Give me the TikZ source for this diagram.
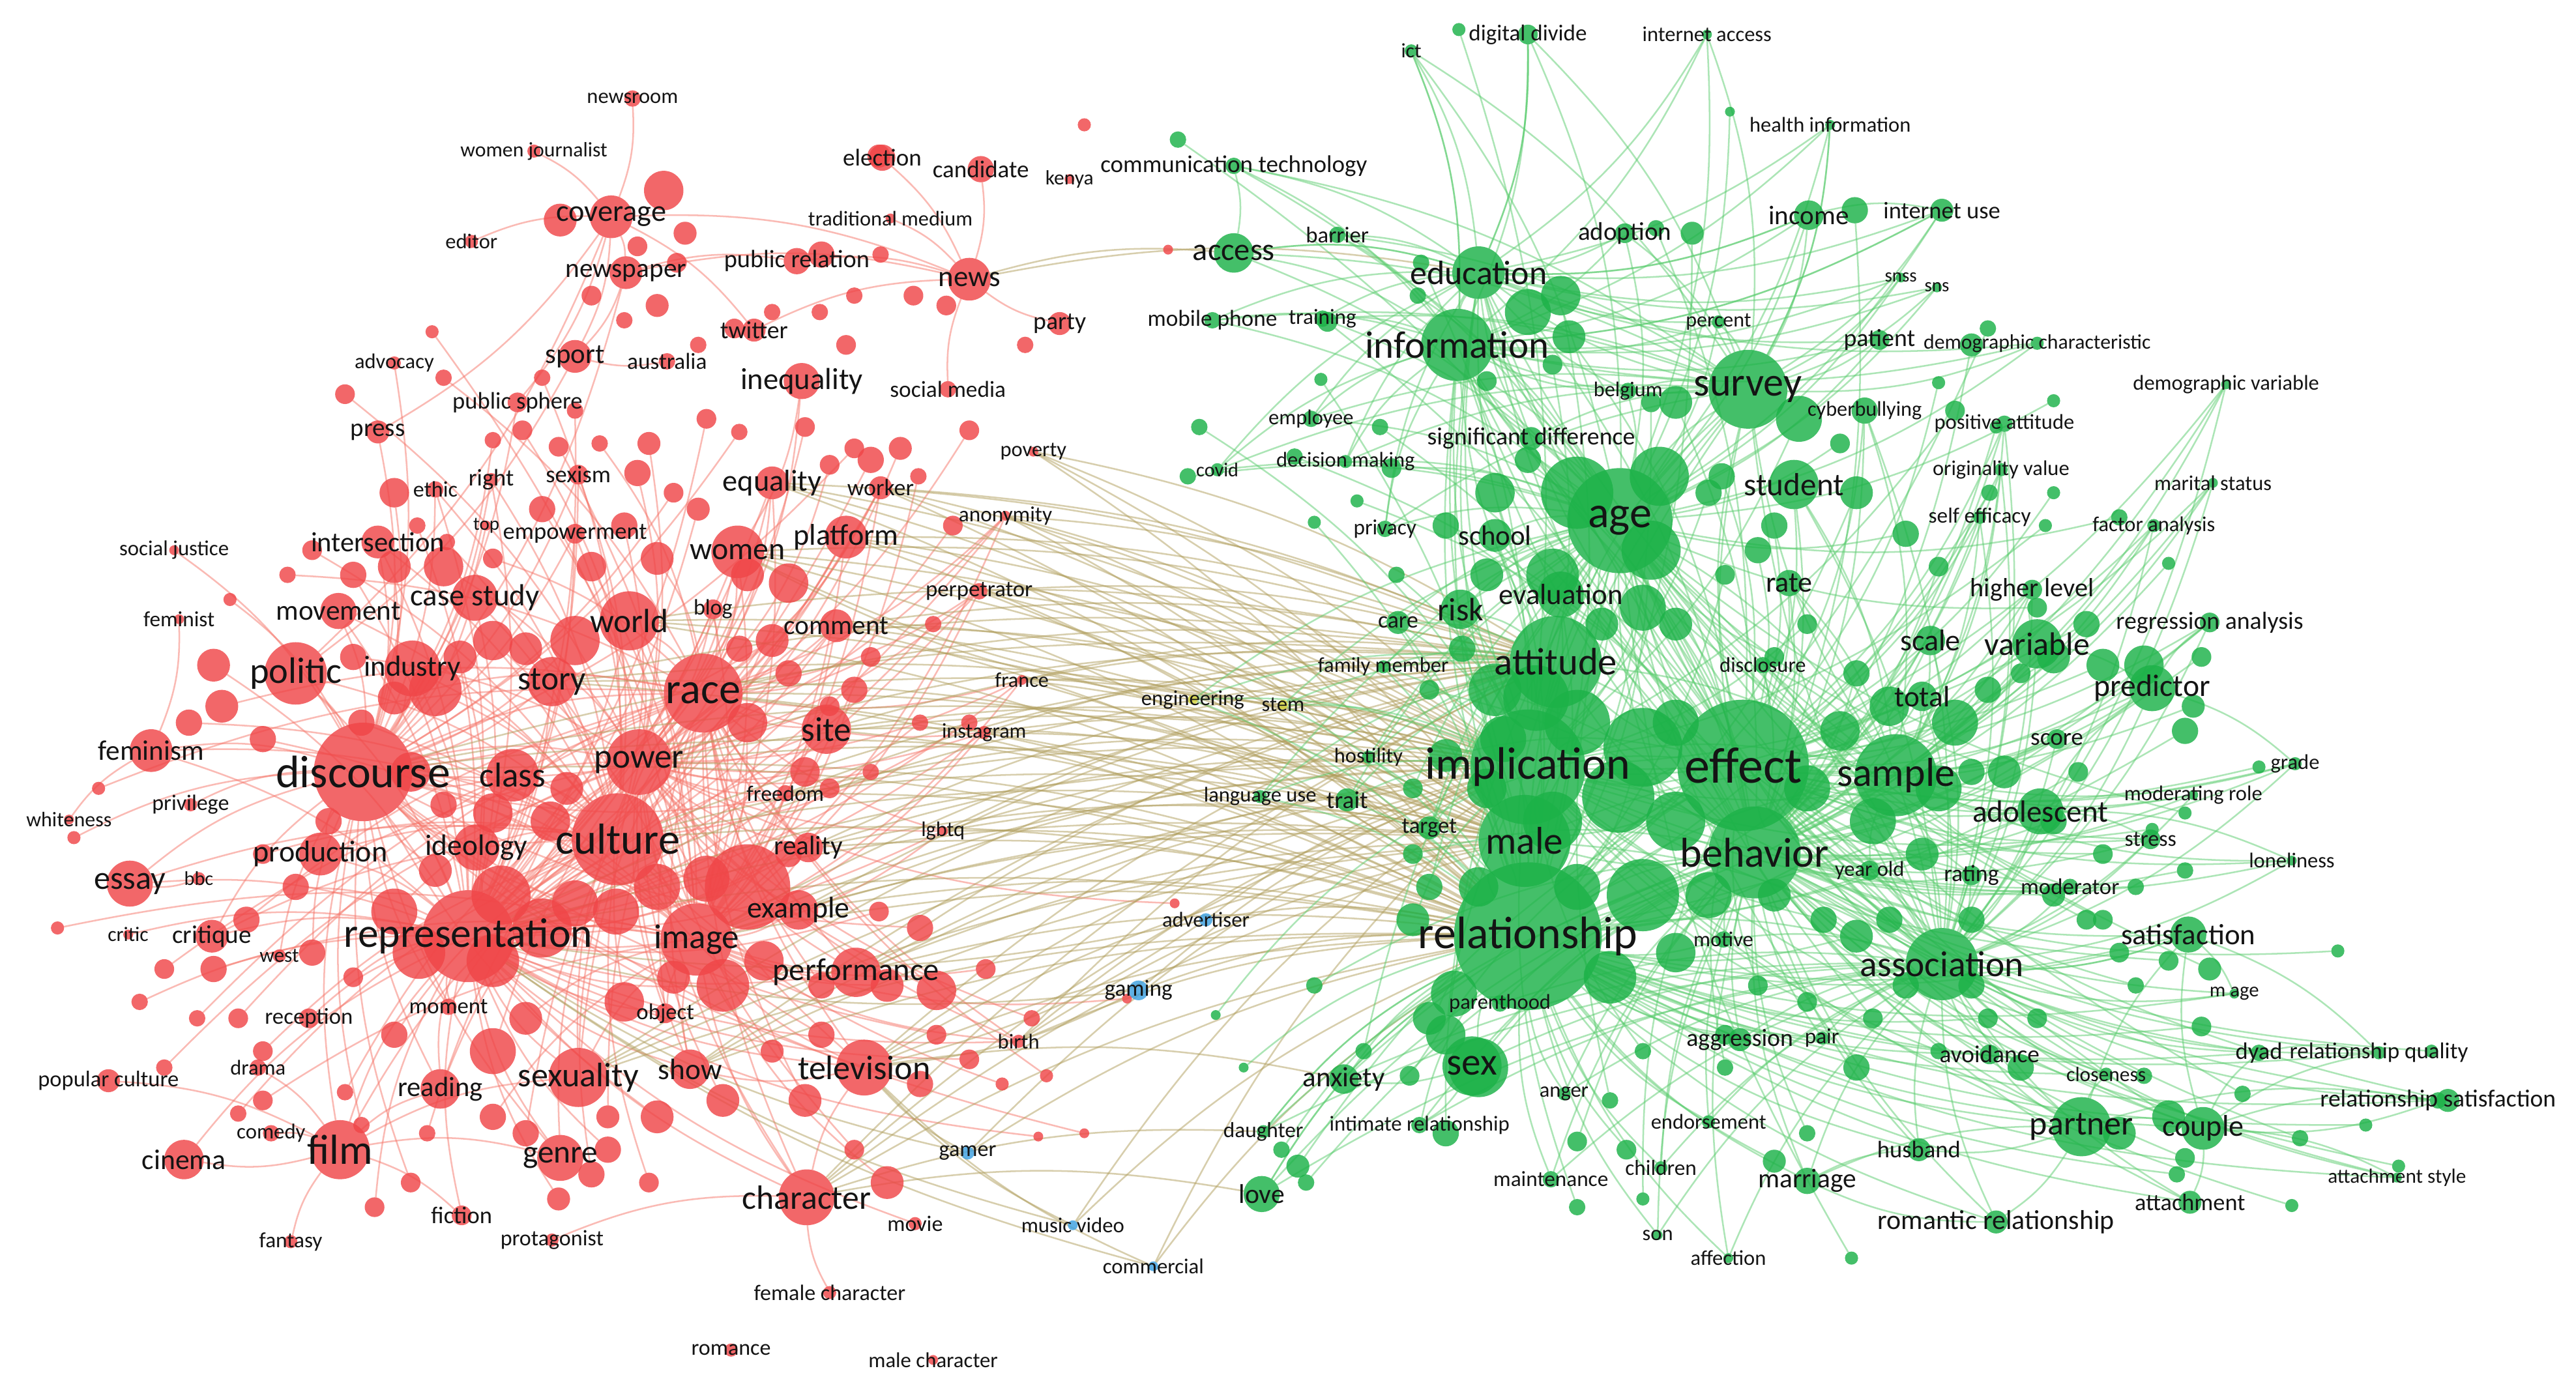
\documentclass[tikz,border=0pt]{standalone}
\usepackage{fontspec}
\setmainfont{Carlito}
\definecolor{nred}{RGB}{240,70,72}
\definecolor{ngreen}{RGB}{28,178,72}
\definecolor{nblue}{RGB}{60,160,225}
\definecolor{nyellow}{RGB}{212,212,60}
\definecolor{ered}{RGB}{246,118,106}
\definecolor{egreen}{RGB}{90,205,110}
\definecolor{ecross}{RGB}{176,158,92}
\pgfdeclarelayer{bg}
\pgfdeclarelayer{edges}
\pgfdeclarelayer{lab}
\pgfsetlayers{bg,edges,main,lab}
\tikzset{
  dot/.style={circle,inner sep=0pt,outer sep=0pt,draw=none,fill opacity=0.82},
  lbl/.style={inner sep=0pt,text=black!92},
  redge/.style={draw=ered,line width=1.0pt,draw opacity=0.5},
  gedge/.style={draw=egreen,line width=1.0pt,draw opacity=0.5},
  xedge/.style={draw=ecross,line width=1.0pt,draw opacity=0.5},
}
\newcommand\kw[7]{%
  \node[dot,fill=#5,minimum size=#4*2pt] (#1) at (#2,#3) {};
  \begin{pgfonlayer}{lab}\node[lbl,font=\fontsize{#6}{#6}\selectfont] (#1-t) at (#2,#3) {#7};\end{pgfonlayer}}
\begin{document}
\begin{tikzpicture}[x=1pt,y=-1pt]
\begin{pgfonlayer}{bg}\fill[white] (0,0) rectangle (1568,845);\end{pgfonlayer}
\useasboundingbox (0,0) rectangle (1568,845);
% ---------- unlabeled red circles
\foreach \x/\y/\r [count=\i] in {404/116/12,417/142/7,341/134/10,388/150/6,412/160/6,400/186/7,500/155/8,535/95/7,660/76/4,536/155/5,556/180/6,576/186/6,470/190/5,499/190/5,515/210/6,520/180/5,447/200/6,425/210/5,380/195/5,360/180/6,624/210/5,711/152/3,490/260/6,520/273/6,530/280/8,548/273/7,505/283/6,559/290/5,590/262/6,450/263/5,430/255/6,395/270/7,365/270/5,340/272/6,318/262/6,300/268/5,350/250/5,330/230/5,270/230/5,263/202/4,210/240/6,240/300/9,254/320/5,272/330/5,300/340/6,330/310/8,388/288/8,410/300/6,425/310/7,380/320/8,400/340/10,360/345/9,270/345/12,240/345/10,215/350/8,190/335/6,175/350/5,300/390/12,320/395/10,350/390/15,280/400/10,265/420/16,240/425/10,220/440/8,215/400/8,140/365/4,130/405/10,115/440/8,135/430/10,160/450/8,455/350/10,470/390/10,450/395/8,480/355/12,480/410/8,455/440/12,490/470/9,505/480/6,480/520/8,455/540/26,430/535/14,400/540/14,375/555/14,350/550/14,330/565/18,305/545/18,300/585/16,255/580/16,240/555/14,265/530/10,335/500/12,345/480/10,300/495/12,250/470/12,270/490/8,200/500/8,180/540/8,160/520/6,150/560/8,130/590/8,100/590/6,190/580/8,215/595/6,240/630/8,300/640/14,320/620/10,380/610/12,410/595/10,440/600/16,465/585/12,500/600/8,540/600/10,570/603/12,560/565/8,535/555/6,500/630/8,490/670/10,470/640/7,440/670/10,400/680/10,370/700/8,395/720/6,320/690/8,300/680/8,260/690/5,250/720/6,340/730/7,360/715/8,370/680/7,540/720/10,520/700/6,560/660/8,590/645/6,610/660/4,637/655/4,600/590/6,628/620/5,570/630/6,580/320/6,568/380/5,530/400/6,520/420/8,530/470/5,505/430/6,560/440/5,590/440/5,60/480/4,35/565/4,100/650/5,45/510/4,85/610/5,160/640/6,145/620/6,160/670/6,210/665/5,220/685/5,228/735/6,145/678/5,120/620/5,686/608/3,715/550/3,660/690/3,632/692/3}
  {\node[dot,fill=nred,minimum size=\r*2pt] (ur\i) at (\x,\y) {}; \xdef\nred{\i}}
% ---------- unlabeled green circles
\foreach \x/\y/\r [count=\i] in {717/85/5,888/18/4,1053/68/3,1129/128/8,1030/142/7,1008/139/5,865/160/5,863/180/5,808/196/6,804/231/4,788/278/5,730/260/5,723/290/5,930/190/14,950/180/12,955/205/10,945/222/6,905/232/6,1020/245/10,1005/245/6,1048/290/8,1095/255/14,1120/270/6,1200/210/7,1210/200/5,1180/233/4,1190/250/6,1250/244/4,1215/260/4,1211/300/5,1250/300/4,1245/320/4,1290/315/5,1320/343/4,1340/400/6,1335/430/7,1280/405/10,1160/325/8,1180/345/6,1130/300/10,1080/320/8,1040/300/8,1010/290/18,960/300/22,1005/335/18,945/350/16,1000/370/14,975/380/10,1020/380/10,1050/350/6,1070/335/8,1100/380/6,1080/400/6,1130/410/8,1150/430/12,1190/440/14,1120/445/12,1100/480/14,1020/440/14,1000/455/24,985/485/22,960/440/20,935/425/20,910/420/16,915/450/14,905/480/12,945/500/18,1020/500/18,1040/545/14,1000/545/22,1080/545/10,1110/560/8,1150/560/8,1170/520/10,1140/500/14,1180/480/14,1200/470/8,1220/470/10,1250/500/8,1265/470/6,1280/520/6,1300/540/5,1280/560/6,1330/530/5,1290/580/6,1300/600/5,1320/585/6,1345/590/7,1423/579/4,1340/625/6,1305/655/5,1290/690/10,1320/680/10,1330/705/6,1325/715/5,1400/693/5,1395/734/4,1365/666/5,1480/640/4,1440/685/4,1490/670/7,1460/710/4,1230/650/8,1240/620/6,1210/620/6,1200/600/8,1180/640/5,1130/650/8,1100/690/5,1080/707/7,1050/650/5,1000/640/5,980/670/5,960/695/6,990/700/6,1000/730/4,960/735/5,1127/766/4,1020/580/12,980/595/16,960/540/14,885/605/14,880/630/12,900/650/18,870/620/10,858/655/6,880/690/8,830/640/5,800/600/5,780/700/5,790/710/7,860/560/10,870/540/8,860/520/6,900/540/12,880/460/10,890/395/8,905/350/10,880/320/8,910/300/12,930/280/8,850/350/5,847/285/6,840/260/5,800/318/4,826/305/4,740/618/3,860/480/6,870/420/6,1050/630/6,1070/600/6,1100/610/6,1140/620/6,1160/600/8,1130/570/10,1200/560/8,1250/545/7,1270/560/6,1210/420/8,1230/410/6,1250/400/10,1270/380/8,1240/370/6,1305/405/12,1330/445/8,1375/467/4,1310/505/4,1330/495/4,795/720/5,757/650/3}
  {\node[dot,fill=ngreen,minimum size=\r*2pt] (ug\i) at (\x,\y) {}; \xdef\ngreen{\i}}
% ---------- red keywords
\kw{newsroom}{385}{60}{5}{nred}{12.9}{newsroom}
\kw{womenjournalist}{325}{92}{4}{nred}{12.6}{women journalist}
\kw{coverage}{372}{132}{13}{nred}{18.4}{coverage}
\kw{editor}{287}{147}{4}{nred}{12.9}{editor}
\kw{newspaper}{381}{166}{10}{nred}{16.4}{newspaper}
\kw{election}{537}{96}{8}{nred}{14.7}{election}
\kw{candidate}{597}{103}{8}{nred}{14.7}{candidate}
\kw{kenya}{651}{109}{3}{nred}{12.5}{kenya}
\kw{tradmedium}{542}{133}{3}{nred}{12.8}{traditional medium}
\kw{publicrelation}{485}{159}{8}{nred}{15.2}{public relation}
\kw{news}{590}{170}{13}{nred}{17.8}{news}
\kw{twitter}{459}{201}{7}{nred}{15}{twitter}
\kw{party}{645}{197}{7}{nred}{15}{party}
\kw{advocacy}{240}{221}{4}{nred}{12.9}{advocacy}
\kw{sport}{350}{217}{10}{nred}{17}{sport}
\kw{australia}{406}{220}{5}{nred}{14}{australia}
\kw{publicsphere}{315}{245}{6}{nred}{14.5}{public sphere}
\kw{inequality}{488}{232}{11}{nred}{18.5}{inequality}
\kw{socialmedia}{577}{237}{5}{nred}{14}{social media}
\kw{poverty}{629}{275}{3}{nred}{12.9}{poverty}
\kw{press}{230}{263}{7}{nred}{15.5}{press}
\kw{ethic}{265}{298}{5}{nred}{13.5}{ethic}
\kw{right}{299}{292}{4}{nred}{14.5}{right}
\kw{sexism}{352}{289}{6}{nred}{14.5}{sexism}
\kw{top}{296}{320}{3}{nred}{11.5}{top}
\kw{empowerment}{350}{325}{6}{nred}{14.5}{empowerment}
\kw{equality}{470}{294}{10}{nred}{18.4}{equality}
\kw{worker}{536}{297}{7}{nred}{14.2}{worker}
\kw{socialjustice}{106}{335}{3}{nred}{13}{social justice}
\kw{intersection}{230}{330}{10}{nred}{16.9}{intersection}
\kw{women}{449}{336}{16}{nred}{19}{women}
\kw{platform}{515}{327}{13}{nred}{18.3}{platform}
\kw{anonymity}{612}{314}{3}{nred}{13.2}{anonymity}
\kw{casestudy}{289}{364}{14}{nred}{18.6}{case study}
\kw{feminist}{109}{377}{3}{nred}{13.2}{feminist}
\kw{movement}{206}{372}{11}{nred}{17.2}{movement}
\kw{world}{383}{378}{18}{nred}{20.4}{world}
\kw{blog}{434}{371}{6}{nred}{13.5}{blog}
\kw{perpetrator}{596}{360}{5}{nred}{13.8}{perpetrator}
\kw{comment}{509}{381}{10}{nred}{16.4}{comment}
\kw{politic}{180}{410}{19}{nred}{22.4}{politic}
\kw{industry}{251}{407}{17}{nred}{17.7}{industry}
\kw{story}{336}{415}{15}{nred}{20.4}{story}
\kw{race}{428}{422}{24}{nred}{26.3}{race}
\kw{france}{622}{414}{3}{nred}{12.8}{france}
\kw{site}{503}{444}{15}{nred}{21}{site}
\kw{instagram}{599}{446}{4}{nred}{12.8}{instagram}
\kw{feminism}{92}{457}{13}{nred}{17.2}{feminism}
\kw{discourse}{221}{470}{30}{nred}{27.7}{discourse}
\kw{class}{312}{472}{16}{nred}{21}{class}
\kw{power}{389}{464}{20}{nred}{21}{power}
\kw{freedom}{478}{483}{5}{nred}{13.5}{freedom}
\kw{whiteness}{42}{499}{3}{nred}{12.7}{whiteness}
\kw{privilege}{116}{490}{4}{nred}{13.5}{privilege}
\kw{production}{195}{520}{13}{nred}{18.3}{production}
\kw{ideology}{290}{516}{14}{nred}{18}{ideology}
\kw{culture}{376}{511}{28}{nred}{26.4}{culture}
\kw{reality}{492}{516}{9}{nred}{16.3}{reality}
\kw{lgbtq}{574}{506}{3}{nred}{12.8}{lgbtq}
\kw{essay}{79}{538}{14}{nred}{19.9}{essay}
\kw{bbc}{121}{535}{4}{nred}{12}{bbc}
\kw{example}{486}{554}{12}{nred}{18.2}{example}
\kw{critic}{78}{569}{3}{nred}{12.5}{critic}
\kw{critique}{129}{570}{10}{nred}{15.5}{critique}
\kw{west}{170}{582}{4}{nred}{12.5}{west}
\kw{representation}{285}{570}{28}{nred}{25.2}{representation}
\kw{image}{424}{572}{22}{nred}{21}{image}
\kw{performance}{521}{592}{15}{nred}{19.3}{performance}
\kw{moment}{273}{613}{5}{nred}{13.8}{moment}
\kw{reception}{188}{620}{6}{nred}{13.8}{reception}
\kw{object}{405}{617}{6}{nred}{13.8}{object}
\kw{birth}{620}{634}{4}{nred}{12.9}{birth}
\kw{drama}{157}{650}{5}{nred}{12.9}{drama}
\kw{popularculture}{66}{658}{7}{nred}{13.7}{popular culture}
\kw{reading}{268}{663}{12}{nred}{16.9}{reading}
\kw{sexuality}{352}{656}{18}{nred}{20.7}{sexuality}
\kw{show}{420}{651}{12}{nred}{18}{show}
\kw{television}{526}{650}{17}{nred}{20.7}{television}
\kw{comedy}{165}{690}{5}{nred}{13}{comedy}
\kw{film}{207}{700}{18}{nred}{25.6}{film}
\kw{cinema}{112}{706}{12}{nred}{17.3}{cinema}
\kw{genre}{341}{705}{14}{nred}{19.6}{genre}
\kw{fiction}{281}{740}{6}{nred}{14.5}{fiction}
\kw{character}{491}{729}{17}{nred}{20.5}{character}
\kw{fantasy}{177}{756}{4}{nred}{13.2}{fantasy}
\kw{protagonist}{336}{755}{4}{nred}{13.5}{protagonist}
\kw{movie}{557}{745}{4}{nred}{13.5}{movie}
\kw{femalechar}{505}{787}{4}{nred}{13.5}{female character}
\kw{romance}{445}{822}{4}{nred}{13.5}{romance}
\kw{malechar}{568}{828}{3}{nred}{13}{male character}
% ---------- blue / yellow
\kw{advertiser}{734}{560}{4}{nblue}{13}{advertiser}
\kw{gaming}{693}{603}{6}{nblue}{14}{gaming}
\kw{gamer}{589}{702}{4}{nblue}{13.5}{gamer}
\kw{musicvideo}{653}{746}{3}{nblue}{13}{music video}
\kw{commercial}{702}{771}{3}{nblue}{13}{commercial}
\kw{engineering}{726}{426}{3}{nyellow}{13}{engineering}
\kw{stem}{781}{429}{3}{nyellow}{13}{stem}
% ---------- green keywords
\kw{ict}{859}{31}{4}{ngreen}{12.5}{ict}
\kw{digitaldivide}{930}{21}{6}{ngreen}{13.9}{digital divide}
\kw{internetaccess}{1039}{21}{3}{ngreen}{12.9}{internet access}
\kw{healthinfo}{1114}{76}{3}{ngreen}{12.9}{health information}
\kw{commtech}{751}{101}{5}{ngreen}{14.7}{communication technology}
\kw{access}{751}{154}{12}{ngreen}{19.2}{access}
\kw{barrier}{814}{143}{5}{ngreen}{13.8}{barrier}
\kw{education}{900}{166}{16}{ngreen}{20.6}{education}
\kw{adoption}{989}{142}{6}{ngreen}{15.5}{adoption}
\kw{income}{1101}{131}{9}{ngreen}{16.3}{income}
\kw{internetuse}{1182}{128}{7}{ngreen}{14.5}{internet use}
\kw{snss}{1157}{169}{3}{ngreen}{11.5}{snss}
\kw{sns}{1179}{175}{3}{ngreen}{11.5}{sns}
\kw{mobilephone}{738}{195}{5}{ngreen}{14}{mobile phone}
\kw{training}{805}{194}{5}{ngreen}{13.2}{training}
\kw{information}{887}{210}{22}{ngreen}{23.4}{information}
\kw{percent}{1046}{196}{4}{ngreen}{12.7}{percent}
\kw{patient}{1144}{207}{6}{ngreen}{15}{patient}
\kw{demochar}{1240}{209}{4}{ngreen}{12.6}{demographic characteristic}
\kw{survey}{1064}{237}{24}{ngreen}{24.7}{survey}
\kw{belgium}{991}{238}{5}{ngreen}{12.8}{belgium}
\kw{cyberbullying}{1135}{250}{8}{ngreen}{12.8}{cyberbullying}
\kw{demovar}{1355}{234}{3}{ngreen}{12.9}{demographic variable}
\kw{employee}{798}{255}{5}{ngreen}{12.9}{employee}
\kw{sigdiff}{932}{267}{7}{ngreen}{15}{significant difference}
\kw{posatt}{1220}{258}{5}{ngreen}{12.9}{positive attitude}
\kw{decisionmaking}{819}{281}{4}{ngreen}{12.9}{decision making}
\kw{covid}{741}{286}{4}{ngreen}{12}{covid}
\kw{origval}{1218}{286}{4}{ngreen}{12.9}{originality value}
\kw{student}{1092}{295}{15}{ngreen}{19.5}{student}
\kw{maritalstatus}{1347}{294}{3}{ngreen}{12.9}{marital status}
\kw{age}{986}{317}{32}{ngreen}{27}{age}
\kw{privacy}{843}{322}{5}{ngreen}{13.2}{privacy}
\kw{school}{910}{326}{10}{ngreen}{17}{school}
\kw{selfeff}{1205}{315}{4}{ngreen}{13.2}{self efficacy}
\kw{factoranalysis}{1311}{320}{4}{ngreen}{12.9}{factor analysis}
\kw{rate}{1089}{355}{8}{ngreen}{17.5}{rate}
\kw{evaluation}{950}{362}{14}{ngreen}{17.8}{evaluation}
\kw{higherlevel}{1237}{359}{6}{ngreen}{16}{higher level}
\kw{risk}{889}{371}{12}{ngreen}{19.7}{risk}
\kw{care}{851}{379}{7}{ngreen}{14.2}{care}
\kw{regression}{1345}{379}{6}{ngreen}{15}{regression analysis}
\kw{scale}{1175}{390}{9}{ngreen}{18.3}{scale}
\kw{variable}{1240}{392}{15}{ngreen}{19.8}{variable}
\kw{familymember}{842}{406}{4}{ngreen}{12.9}{family member}
\kw{attitude}{947}{403}{28}{ngreen}{23.3}{attitude}
\kw{disclosure}{1073}{405}{5}{ngreen}{12.9}{disclosure}
\kw{predictor}{1310}{419}{14}{ngreen}{18.9}{predictor}
\kw{total}{1170}{424}{9}{ngreen}{17.9}{total}
\kw{hostility}{833}{461}{4}{ngreen}{12.9}{hostility}
\kw{implication}{930}{467}{35}{ngreen}{27.7}{implication}
\kw{effect}{1061}{466}{40}{ngreen}{31}{effect}
\kw{sample}{1154}{472}{25}{ngreen}{24.6}{sample}
\kw{score}{1252}{450}{6}{ngreen}{14.8}{score}
\kw{grade}{1397}{465}{4}{ngreen}{12.9}{grade}
\kw{trait}{820}{487}{7}{ngreen}{14.8}{trait}
\kw{languageuse}{767}{485}{4}{ngreen}{12.9}{language use}
\kw{moderatingrole}{1335}{484}{3}{ngreen}{12.9}{moderating role}
\kw{adolescent}{1242}{494}{14}{ngreen}{18.7}{adolescent}
\kw{target}{870}{504}{7}{ngreen}{13.8}{target}
\kw{male}{928}{512}{28}{ngreen}{23.5}{male}
\kw{behavior}{1068}{519}{28}{ngreen}{25.4}{behavior}
\kw{stress}{1309}{511}{6}{ngreen}{13.5}{stress}
\kw{loneliness}{1395}{524}{3}{ngreen}{12.9}{loneliness}
\kw{yearold}{1138}{530}{6}{ngreen}{12.9}{year old}
\kw{rating}{1200}{533}{6}{ngreen}{14.2}{rating}
\kw{moderator}{1260}{540}{5}{ngreen}{13.8}{moderator}
\kw{relationship}{930}{570}{45}{ngreen}{27.7}{relationship}
\kw{motive}{1049}{572}{5}{ngreen}{12.9}{motive}
\kw{association}{1182}{587}{22}{ngreen}{22}{association}
\kw{satisfaction}{1332}{569}{11}{ngreen}{17.8}{satisfaction}
\kw{mage}{1360}{605}{3}{ngreen}{12.2}{m age}
\kw{parenthood}{913}{611}{5}{ngreen}{12.9}{parenthood}
\kw{aggression}{1059}{633}{7}{ngreen}{15}{aggression}
\kw{pair}{1109}{632}{4}{ngreen}{13.2}{pair}
\kw{avoidance}{1211}{642}{6}{ngreen}{14.8}{avoidance}
\kw{dyad}{1375}{641}{5}{ngreen}{14.5}{dyad}
\kw{relqual}{1448}{641}{4}{ngreen}{13.9}{relationship quality}
\kw{closeness}{1282}{654}{4}{ngreen}{12.5}{closeness}
\kw{anxiety}{818}{657}{9}{ngreen}{17}{anxiety}
\kw{sex}{896}{649}{18}{ngreen}{23.5}{sex}
\kw{anger}{952}{666}{4}{ngreen}{12.9}{anger}
\kw{relsat}{1484}{670}{5}{ngreen}{14.9}{relationship satisfaction}
\kw{endorsement}{1040}{683}{4}{ngreen}{12.9}{endorsement}
\kw{intimaterel}{864}{685}{5}{ngreen}{13}{intimate relationship}
\kw{partner}{1267}{686}{18}{ngreen}{20.6}{partner}
\kw{couple}{1341}{687}{13}{ngreen}{18.3}{couple}
\kw{daughter}{769}{689}{4}{ngreen}{13.2}{daughter}
\kw{husband}{1168}{700}{7}{ngreen}{14.5}{husband}
\kw{maintenance}{944}{718}{5}{ngreen}{13.2}{maintenance}
\kw{children}{1011}{711}{4}{ngreen}{13.2}{children}
\kw{marriage}{1100}{719}{8}{ngreen}{16.4}{marriage}
\kw{attachstyle}{1459}{717}{3}{ngreen}{12.4}{attachment style}
\kw{love}{768}{727}{11}{ngreen}{16.5}{love}
\kw{attachment}{1333}{732}{7}{ngreen}{14.4}{attachment}
\kw{romrel}{1215}{744}{7}{ngreen}{16.6}{romantic relationship}
\kw{son}{1009}{752}{3}{ngreen}{12.9}{son}
\kw{affection}{1052}{766}{3}{ngreen}{12.9}{affection}
% ================= edges
\begin{pgfonlayer}{edges}
\foreach \a [count=\i] in {discourse,representation,culture,race,image,power}{\foreach \b [count=\j] in {discourse,representation,culture,race,image,power}{\ifnum\i<\j \draw[redge] (\a) to[bend left=12] (\b);\fi}}
\foreach \a in {ethic,right,sexism,empowerment,intersection,casestudy,movement,politic,industry,feminism,production,essay,critique,moment,reading,genre,film,class,ideology,story}
  {\foreach \b in {discourse,representation,culture}{\draw[redge] (\a) to[bend left=12] (\b);}}
\foreach \a/\b in {top/discourse,socialjustice/discourse,feminist/feminism,whiteness/feminism,privilege/discourse,bbc/essay,critic/representation,west/discourse,popularculture/film,reception/representation,drama/film,comedy/film,cinema/representation,fantasy/film,fiction/representation,protagonist/character,femalechar/character,movie/representation}
  {\draw[redge] (\a) to[bend left=12] (\b);}
\foreach \a in {equality,worker,women,platform,anonymity,world,blog,perpetrator,comment,freedom,reality,lgbtq,site,example,instagram,france,object,performance,birth,show,sexuality,television,character}
  {\foreach \b in {race,representation,image,power}{\draw[redge] (\a) to[bend left=12] (\b);}}
\foreach \a/\b in {coverage/newspaper,coverage/news,newspaper/news,twitter/news,publicrelation/news,coverage/sport,coverage/publicsphere,newspaper/sport,coverage/press,coverage/twitter,newspaper/publicrelation,sport/politic,inequality/women,inequality/race,press/discourse,publicsphere/discourse,election/news,candidate/news,coverage/politic,newspaper/discourse,newsroom/coverage,womenjournalist/coverage,editor/coverage,socialmedia/news,australia/sport,advocacy/discourse,tradmedium/news,party/news,film/cinema,film/genre,film/fiction,character/television,film/reading,film/sexuality,television/show}
  {\draw[redge] (\a) to[bend left=12] (\b);}
\foreach \i in {23,...,\nred}{\pgfmathtruncatemacro\h{mod(\i,6)}%
  \ifcase\h \def\hub{discourse}\or\def\hub{representation}\or\def\hub{culture}\or\def\hub{race}\or\def\hub{image}\or\def\hub{power}\fi
  \draw[redge] (ur\i) to[bend left=12] (\hub);}
\foreach \a in {race,site,culture,example,performance,television,character,image,women,platform,comment,power,sexuality,representation,reality,perpetrator,anonymity,france,instagram,lgbtq,freedom,birth,story,world,discourse,show,equality,worker,poverty}
  {\foreach \b in {relationship,implication,male,attitude}{\draw[xedge] (\a) to[bend left=10] (\b);}}
\foreach \a in {advertiser,gaming,gamer,musicvideo,commercial}
  {\foreach \b in {representation,television,relationship,implication}{\draw[xedge] (\a) to[bend left=10] (\b);}}
\foreach \a/\b in {news/access,news/education,engineering/women,stem/women,engineering/relationship,stem/implication,character/love,character/daughter,television/anxiety}
  {\draw[xedge] (\a) to[bend left=10] (\b);}
\foreach \a [count=\i] in {relationship,effect,implication,age,behavior,attitude,male,sample,association,survey,information,education}{\foreach \b [count=\j] in {relationship,effect,implication,age,behavior,attitude,male,sample,association,survey,information,education}{\ifnum\i<\j \draw[gedge] (\a) to[bend left=12] (\b);\fi}}
\foreach \a in {ict,digitaldivide,internetaccess,healthinfo,commtech,access,barrier,adoption,income,internetuse,mobilephone,training,percent,belgium,employee,decisionmaking,covid,privacy,sigdiff,patient,snss,sns,demochar}
  {\foreach \b in {information,education,survey,age}{\draw[gedge] (\a) to[bend left=12] (\b);}}
\foreach \a in {demovar,posatt,origval,selfeff,maritalstatus,factoranalysis,higherlevel,regression,scale,variable,predictor,total,score,grade,moderatingrole,adolescent,stress,loneliness,yearold,rating,moderator,student,rate,disclosure,cyberbullying}
  {\foreach \b in {sample,effect,behavior,association}{\draw[gedge] (\a) to[bend left=12] (\b);}}
\foreach \a in {satisfaction,mage,aggression,pair,avoidance,dyad,relqual,closeness,relsat,endorsement,partner,couple,husband,marriage,attachstyle,attachment,romrel,son,affection,children,maintenance,anger,motive,parenthood,intimaterel,anxiety,daughter,love,sex}
  {\foreach \b in {relationship,association,behavior}{\draw[gedge] (\a) to[bend left=12] (\b);}}
\foreach \a in {care,familymember,hostility,trait,languageuse,target,risk,school,evaluation,engineering,stem}
  {\foreach \b in {implication,relationship,attitude,age}{\draw[gedge] (\a) to[bend left=12] (\b);}}
\foreach \a/\b in {partner/couple,partner/satisfaction,couple/satisfaction,couple/relsat,partner/relsat,couple/attachment,partner/romrel,partner/husband,marriage/partner,couple/dyad,partner/closeness,satisfaction/relqual,satisfaction/mage,couple/attachstyle,partner/avoidance,variable/predictor,predictor/regression,adolescent/stress,adolescent/predictor,income/internetuse,income/education,digitaldivide/education,ict/information,commtech/access,access/education,internetuse/information,healthinfo/survey,variable/higherlevel,predictor/grade,adolescent/loneliness,dyad/relqual,relsat/couple,marriage/husband,romrel/marriage,sex/anxiety,sex/intimaterel,love/relationship,daughter/relationship,couple/relqual,satisfaction/association}
  {\draw[gedge] (\a) to[bend left=12] (\b);}
\foreach \i in {1,...,\ngreen}{\pgfmathtruncatemacro\h{mod(\i,5)}%
  \ifcase\h \def\hub{relationship}\or\def\hub{effect}\or\def\hub{implication}\or\def\hub{age}\or\def\hub{behavior}\fi
  \draw[gedge] (ug\i) to[bend left=12] (\hub);}
\end{pgfonlayer}
\end{tikzpicture}
\end{document}
